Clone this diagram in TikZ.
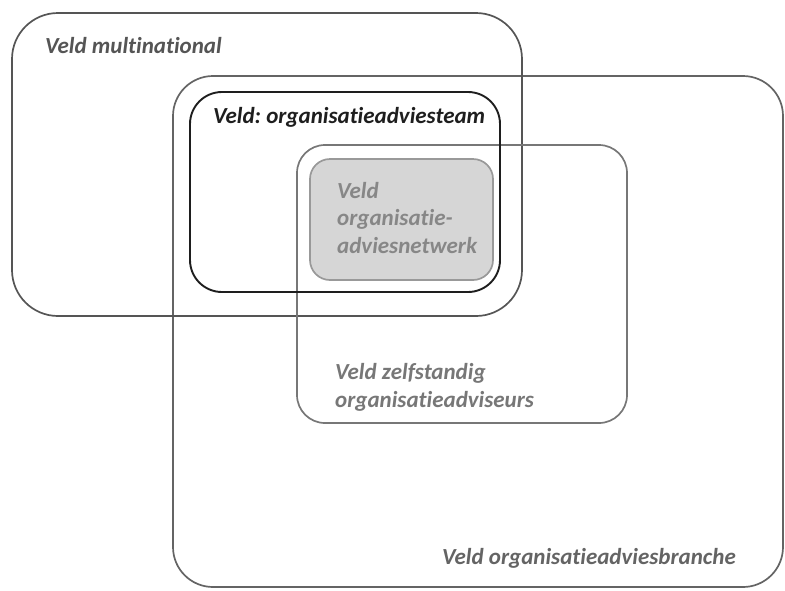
\documentclass[tikz,border=0pt]{standalone}
\usepackage{fontspec}
\setmainfont{Carlito}[Ligatures=NoCommon]
\frenchspacing
\usetikzlibrary{positioning}
\definecolor{multiC}{HTML}{555555}
\definecolor{brancheC}{HTML}{646464}
\definecolor{teamC}{HTML}{1E1E1E}
\definecolor{zelfC}{HTML}{777777}
\definecolor{netwC}{HTML}{999999}
\definecolor{netwText}{HTML}{878787}
\definecolor{netwFill}{HTML}{D6D6D6}
\tikzset{
  veld/.style={draw,line width=1.7pt,anchor=north west,inner sep=0pt,outer sep=0pt},
  lbl/.style={font=\fontsize{23}{27.5}\selectfont\bfseries\itshape,inner sep=0pt,
              anchor=base west,align=left}
}

\begin{document}
\begin{tikzpicture}[x=1pt,y=-1pt]
  \useasboundingbox (0,0) rectangle (785,590);
  % velden
  \node[veld,draw=brancheC,rounded corners=40pt,minimum width=610pt,minimum height=511pt] (branche) at (173,76) {};
  \node[veld,draw=multiC,rounded corners=46pt,minimum width=510pt,minimum height=303pt]   (multi)   at (12,13)  {};
  \node[veld,draw=zelfC,rounded corners=28pt,minimum width=330pt,minimum height=278pt]    (zelf)    at (297,145) {};
  \node[veld,draw=teamC,line width=1.9pt,rounded corners=32pt,minimum width=310pt,minimum height=200pt] (team) at (190,92) {};
  \node[veld,draw=netwC,fill=netwFill,rounded corners=20pt,minimum width=183pt,minimum height=121pt] (netw) at (310,159) {};

  % namen (base = laatste regel)
  \node[lbl,text=multiC]   (multiLbl)   at (45,53)   {Veld multinational};
  \node[lbl,text=teamC]    (teamLbl)    at (213,123) {Veld: organisatieadviesteam};
  \node[lbl,text=netwText] (netwLbl)    at (337,253) {Veld\\organisatie-\\adviesnetwerk};
  \node[lbl,text=zelfC]    (zelfLbl)    at (335,407) {Veld zelfstandig\\organisatieadviseurs};
  \node[lbl,text=brancheC] (brancheLbl) at (442,564) {Veld organisatieadviesbranche};
\end{tikzpicture}
\end{document}
